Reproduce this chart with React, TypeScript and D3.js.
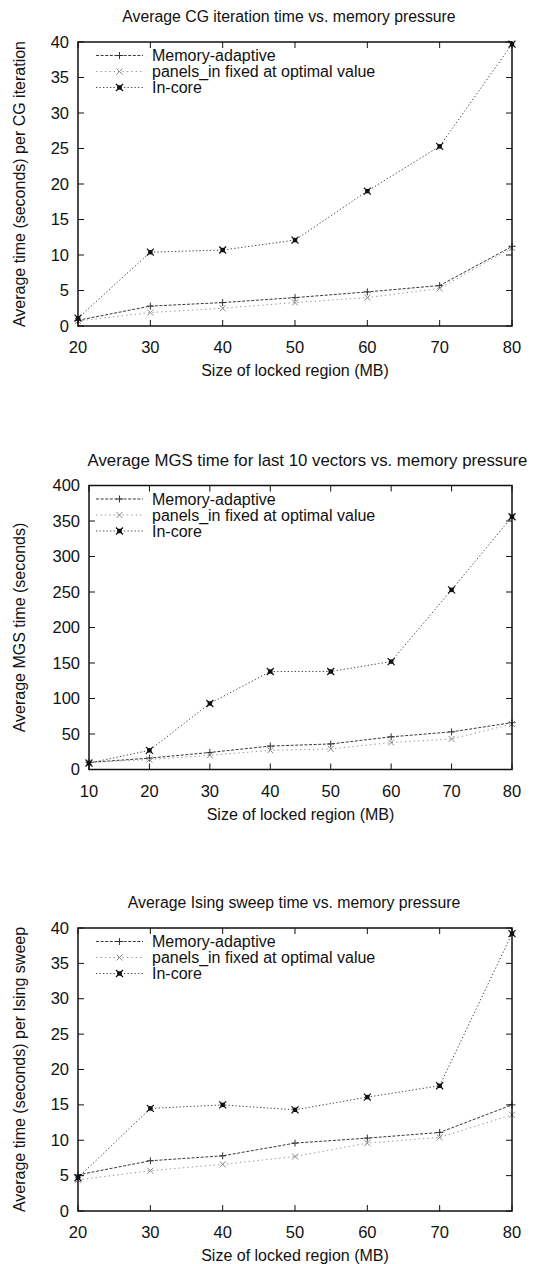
import React from "react";
import * as d3 from "d3";

// Average CG iteration time (seconds) vs. size of locked region (MB)
const cgSizes = [20, 30, 40, 50, 60, 70, 80];
const cgMemAdaptive = [0.8, 2.8, 3.3, 4.0, 4.8, 5.7, 11.2];
const cgPanelsFixed = [0.7, 1.9, 2.5, 3.3, 4.0, 5.3, 11.0];
const cgInCore = [1.1, 10.4, 10.7, 12.1, 19.0, 25.3, 39.7];

// Average MGS time (seconds) for last 10 vectors
const mgsSizes = [10, 20, 30, 40, 50, 60, 70, 80];
const mgsMemAdaptive = [10, 16, 24, 33, 36, 46, 53, 66];
const mgsPanelsFixed = [10, 14, 20, 27, 29, 38, 43, 64];
const mgsInCore = [9, 27, 93, 138, 138, 152, 253, 356];

// Average Ising sweep time (seconds)
const isingSizes = [20, 30, 40, 50, 60, 70, 80];
const isingMemAdaptive = [5.1, 7.1, 7.8, 9.6, 10.3, 11.1, 15.0];
const isingPanelsFixed = [4.4, 5.7, 6.6, 7.7, 9.6, 10.4, 13.6];
const isingInCore = [4.7, 14.5, 15.0, 14.3, 16.1, 17.7, 39.2];

const seriesNames = ["Memory-adaptive", "panels_in fixed at optimal value", "In-core"];

const cgYTicks = [0, 5, 10, 15, 20, 25, 30, 35, 40];
const mgsYTicks = [0, 50, 100, 150, 200, 250, 300, 350, 400];
const isingYTicks = [0, 5, 10, 15, 20, 25, 30, 35, 40];
const cgXTicks = [20, 30, 40, 50, 60, 70, 80];
const mgsXTicks = [10, 20, 30, 40, 50, 60, 70, 80];

const xAxisTitle = "Size of locked region (MB)";

type Panel = {
  title: string;
  titleSize: number;
  titleShift: number;
  yLabel: string;
  left: number;
  right: number;
  top: number;
  bottom: number;
  xDomain: [number, number];
  yDomain: [number, number];
  xTicks: number[];
  yTicks: number[];
  xs: number[];
  series: number[][];
};

const panels: Panel[] = [
  {
    title: "Average CG iteration time vs. memory pressure",
    titleSize: 15.8,
    titleShift: -6,
    yLabel: "Average time (seconds) per CG iteration",
    left: 78, right: 512, top: 42, bottom: 326,
    xDomain: [20, 80], yDomain: [0, 40],
    xTicks: cgXTicks, yTicks: cgYTicks,
    xs: cgSizes,
    series: [cgMemAdaptive, cgPanelsFixed, cgInCore],
  },
  {
    title: "Average MGS time for last 10 vectors vs. memory pressure",
    titleSize: 16.8,
    titleShift: 7,
    yLabel: "Average MGS time (seconds)",
    left: 89, right: 512, top: 485.5, bottom: 769.5,
    xDomain: [10, 80], yDomain: [0, 400],
    xTicks: mgsXTicks, yTicks: mgsYTicks,
    xs: mgsSizes,
    series: [mgsMemAdaptive, mgsPanelsFixed, mgsInCore],
  },
  {
    title: "Average Ising sweep time vs. memory pressure",
    titleSize: 15.8,
    titleShift: -1,
    yLabel: "Average time (seconds) per Ising sweep",
    left: 78, right: 512, top: 928, bottom: 1211,
    xDomain: [20, 80], yDomain: [0, 40],
    xTicks: cgXTicks, yTicks: isingYTicks,
    xs: isingSizes,
    series: [isingMemAdaptive, isingPanelsFixed, isingInCore],
  },
];

const styles = [
  { stroke: "#3a3a3a", dash: "3,1.6", width: 1 },
  { stroke: "#9a9a9a", dash: "1.4,3", width: 1 },
  { stroke: "#444", dash: "1.3,2.2", width: 1 },
];

const FONT = "'Liberation Sans', Arial, Helvetica, sans-serif";

function Marker({ kind, x, y }: { kind: number; x: number; y: number }) {
  if (kind === 0) {
    return (
      <g stroke="#333" strokeWidth={1}>
        <line x1={x - 3.5} x2={x + 3.5} y1={y} y2={y} />
        <line x1={x} x2={x} y1={y - 3.5} y2={y + 3.5} />
      </g>
    );
  }
  if (kind === 1) {
    return (
      <g stroke="#888" strokeWidth={1}>
        <line x1={x - 3} x2={x + 3} y1={y - 3} y2={y + 3} />
        <line x1={x - 3} x2={x + 3} y1={y + 3} y2={y - 3} />
      </g>
    );
  }
  return (
    <g stroke="#111" strokeWidth={1.2}>
      <rect x={x - 2.2} y={y - 2.2} width={4.4} height={4.4} fill="#111" stroke="none" />
      <line x1={x - 3.5} x2={x + 3.5} y1={y - 3.5} y2={y + 3.5} />
      <line x1={x - 3.5} x2={x + 3.5} y1={y + 3.5} y2={y - 3.5} />
    </g>
  );
}

function Chart({ p }: { p: Panel }) {
  const x = d3.scaleLinear().domain(p.xDomain).range([p.left, p.right]);
  const y = d3.scaleLinear().domain(p.yDomain).range([p.bottom, p.top]);
  const line = d3
    .line<[number, number]>()
    .x((d) => x(d[0]))
    .y((d) => y(d[1]));
  const cx = (p.left + p.right) / 2;
  const cy = (p.top + p.bottom) / 2;
  const tick = 6;
  const legendRows = [p.top + 13.5, p.top + 29.5, p.top + 45.5];

  return (
    <g fontFamily={FONT} fill="#111">
      <text x={cx + p.titleShift} y={p.top - 20} fontSize={p.titleSize} textAnchor="middle">
        {p.title}
      </text>

      {/* series */}
      {p.series.map((vals, si) => {
        const pts = p.xs.map((v, i) => [v, vals[i]] as [number, number]);
        return (
          <g key={si}>
            <path
              d={line(pts) || ""}
              fill="none"
              stroke={styles[si].stroke}
              strokeWidth={styles[si].width}
              strokeDasharray={styles[si].dash}
            />
            {pts.map((d, i) => (
              <Marker key={i} kind={si} x={x(d[0])} y={y(d[1])} />
            ))}
          </g>
        );
      })}

      {/* ticks, mirrored on all four sides */}
      <g stroke="#111" strokeWidth={1}>
        {p.xTicks.map((t) => (
          <g key={"xt" + t}>
            <line x1={x(t)} x2={x(t)} y1={p.bottom} y2={p.bottom - tick} />
            <line x1={x(t)} x2={x(t)} y1={p.top} y2={p.top + tick} />
          </g>
        ))}
        {p.yTicks.map((t) => (
          <g key={"yt" + t}>
            <line x1={p.left} x2={p.left + tick} y1={y(t)} y2={y(t)} />
            <line x1={p.right} x2={p.right - tick} y1={y(t)} y2={y(t)} />
          </g>
        ))}
      </g>
      <rect
        x={p.left}
        y={p.top}
        width={p.right - p.left}
        height={p.bottom - p.top}
        fill="none"
        stroke="#111"
        strokeWidth={1.5}
      />

      {p.xTicks.map((t) => (
        <text key={"xl" + t} x={x(t)} y={p.bottom + 27} fontSize={16.5} textAnchor="middle">
          {t}
        </text>
      ))}
      {p.yTicks.map((t) => (
        <text key={"yl" + t} x={p.left - 9} y={y(t) + 5.5} fontSize={16.5} textAnchor="end">
          {t}
        </text>
      ))}

      <text x={cx} y={p.bottom + 50} fontSize={16} textAnchor="middle">
        {xAxisTitle}
      </text>
      <text
        transform={`translate(25,${cy}) rotate(-90)`}
        fontSize={16}
        textAnchor="middle"
      >
        {p.yLabel}
      </text>

      {/* legend */}
      {seriesNames.map((name, si) => {
        const ly = legendRows[si];
        return (
          <g key={"lg" + si}>
            <line
              x1={96}
              x2={143}
              y1={ly}
              y2={ly}
              stroke={styles[si].stroke}
              strokeWidth={styles[si].width}
              strokeDasharray={styles[si].dash}
            />
            <Marker kind={si} x={119.5} y={ly} />
            <text x={152} y={ly + 5.5} fontSize={16}>
              {name}
            </text>
          </g>
        );
      })}
    </g>
  );
}

export default function App() {
  return (
    <svg
      width={535}
      height={1264}
      viewBox="0 0 535 1264"
      style={{ position: "absolute", left: 0, top: 0, background: "#fff" }}
    >
      <rect x={0} y={0} width={535} height={1264} fill="#fff" />
      {panels.map((p, i) => (
        <Chart key={i} p={p} />
      ))}
    </svg>
  );
}
